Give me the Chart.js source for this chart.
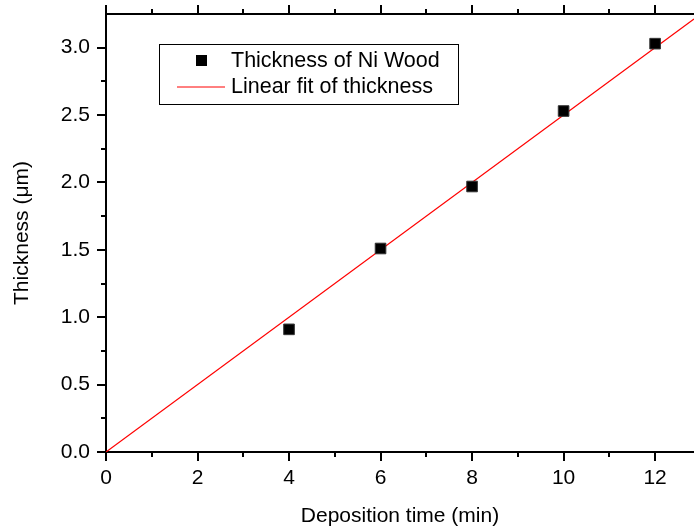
<!DOCTYPE html>
<html>
<head>
    <title>Thickness vs Deposition time</title>
    <script src="https://cdn.jsdelivr.net/npm/chart.js"></script>
    <style>
        body { margin: 0; background: #fff; }
    </style>
</head>
<body>
    <canvas id="thicknessChart" width="694" height="532"></canvas>

    <script>
        // measured points
        const depositionTime = [4, 6, 8, 10, 12];
        const thickness = [0.91, 1.51, 1.97, 2.53, 3.03];

        // linear fit (through origin, slope ~0.25 um/min)
        const fitTime = [0, 12.85];
        const fitThickness = [0, 3.2125];

        const xTicks = [0, 2, 4, 6, 8, 10, 12];
        const xMinor = [1, 3, 5, 7, 9, 11];
        const yTicks = [0, 0.5, 1.0, 1.5, 2.0, 2.5, 3.0];
        const yMinor = [0.25, 0.75, 1.25, 1.75, 2.25, 2.75];

        const FONT = 'Liberation Sans, Arial, sans-serif';

        // ticks drawn outward on left, bottom and top axes
        const tickMarks = {
            id: 'tickMarks',
            afterDraw(chart) {
                const ctx = chart.ctx;
                const area = chart.chartArea;
                const xs = chart.scales.x, ys = chart.scales.y;
                ctx.save();
                ctx.strokeStyle = '#000';
                ctx.lineWidth = 2;
                // top axis line
                ctx.beginPath();
                ctx.moveTo(area.left - 1, area.top);
                ctx.lineTo(area.right, area.top);
                ctx.stroke();
                const drawX = (vals, len) => {
                    vals.forEach(v => {
                        const px = Math.round(xs.getPixelForValue(v));
                        ctx.beginPath();
                        ctx.moveTo(px, area.bottom);
                        ctx.lineTo(px, area.bottom + len);
                        ctx.moveTo(px, area.top);
                        ctx.lineTo(px, area.top - len);
                        ctx.stroke();
                    });
                };
                const drawY = (vals, len) => {
                    vals.forEach(v => {
                        const py = Math.round(ys.getPixelForValue(v));
                        ctx.beginPath();
                        ctx.moveTo(area.left, py);
                        ctx.lineTo(area.left - len, py);
                        ctx.stroke();
                    });
                };
                drawX(xTicks, 9);
                drawX(xMinor, 5);
                drawY(yTicks, 9);
                drawY(yMinor, 5);
                ctx.restore();
            }
        };

        // boxed legend inside the plot
        const boxLegend = {
            id: 'boxLegend',
            afterDraw(chart) {
                const ctx = chart.ctx;
                const ds = chart.data.datasets;
                ctx.save();
                ctx.strokeStyle = '#000';
                ctx.lineWidth = 1;
                ctx.strokeRect(159.5, 44.5, 299, 60);
                ctx.fillStyle = '#000';
                ctx.fillRect(196, 55, 11, 11);
                ctx.strokeStyle = '#ff0000';
                ctx.beginPath();
                ctx.moveTo(177, 87);
                ctx.lineTo(225, 87);
                ctx.stroke();
                ctx.font = '21.5px ' + FONT;
                ctx.textBaseline = 'middle';
                ctx.fillStyle = '#000';
                ctx.fillText(ds[0].label, 231, 61);
                ctx.fillText(ds[1].label, 231, 87);
                ctx.restore();
            }
        };

        const noPad = s => {
            s.paddingTop = 0;
            s.paddingBottom = 0;
            s.paddingLeft = 0;
            s.paddingRight = 0;
        };

        const ctx = document.getElementById('thicknessChart').getContext('2d');
        new Chart(ctx, {
            type: 'scatter',
            data: {
                datasets: [{
                    label: 'Thickness of Ni Wood',
                    data: depositionTime.map((t, i) => ({ x: t, y: thickness[i] })),
                    pointStyle: 'rect',
                    pointRadius: 7.5,
                    backgroundColor: '#000',
                    borderColor: '#333',
                    borderWidth: 1,
                    order: 1
                }, {
                    label: 'Linear fit of thickness',
                    type: 'line',
                    data: fitTime.map((t, i) => ({ x: t, y: fitThickness[i] })),
                    borderColor: '#ff0000',
                    borderWidth: 1.2,
                    pointRadius: 0,
                    fill: false,
                    order: 2
                }]
            },
            options: {
                responsive: false,
                animation: false,
                layout: { autoPadding: false, padding: { top: 14, right: 0, left: 0, bottom: 0 } },
                plugins: {
                    legend: { display: false },
                    tooltip: { enabled: false }
                },
                scales: {
                    x: {
                        type: 'linear',
                        min: 0,
                        max: 12.85,
                        afterFit: s => { s.height = 80; noPad(s); },
                        afterBuildTicks: s => { s.ticks = xTicks.map(v => ({ value: v })); },
                        grid: { display: false, drawTicks: false },
                        border: { display: true, color: '#000', width: 2 },
                        ticks: {
                            padding: 14,
                            color: '#000',
                            font: { family: FONT, size: 21 },
                            maxRotation: 0
                        },
                        title: {
                            display: true,
                            text: 'Deposition time (min)',
                            color: '#000',
                            font: { family: FONT, size: 21 },
                            padding: { top: 0, bottom: 3 }
                        }
                    },
                    y: {
                        type: 'linear',
                        min: 0,
                        max: 3.25,
                        afterFit: s => { s.width = 106; noPad(s); },
                        afterBuildTicks: s => { s.ticks = yTicks.map(v => ({ value: v })); },
                        grid: { display: false, drawTicks: false },
                        border: { display: true, color: '#000', width: 2 },
                        ticks: {
                            padding: 16,
                            color: '#000',
                            font: { family: FONT, size: 21 },
                            callback: v => v.toFixed(1)
                        },
                        title: {
                            display: true,
                            text: 'Thickness (\u03bcm)',
                            color: '#000',
                            font: { family: FONT, size: 21 },
                            padding: { top: 10, bottom: 0 }
                        }
                    }
                }
            },
            plugins: [tickMarks, boxLegend]
        });
    </script>
</body>
</html>
